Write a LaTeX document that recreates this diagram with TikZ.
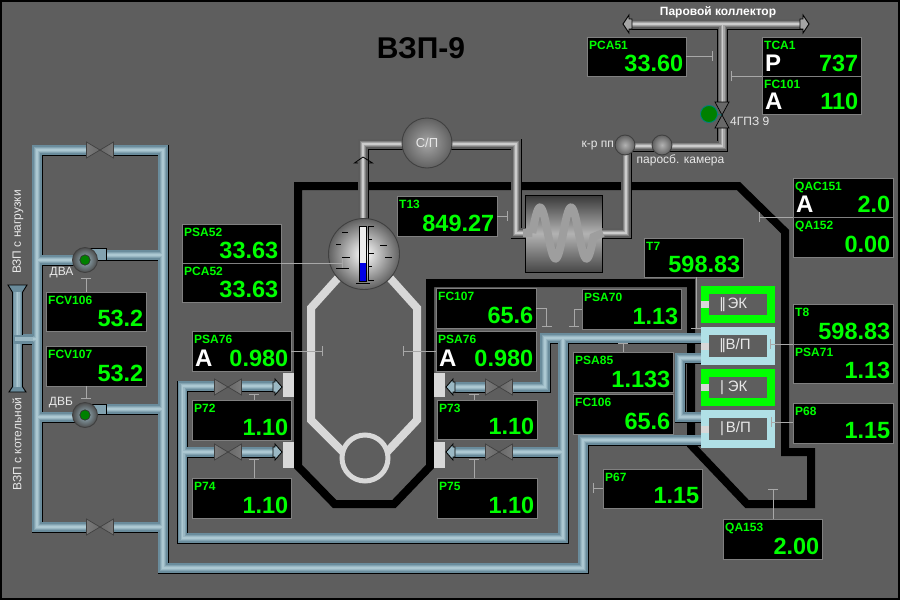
\documentclass[tikz,border=0pt]{standalone}
\usepackage{fontspec}
\setmainfont{Liberation Sans}
\usetikzlibrary{arrows.meta,calc}
\definecolor{bgc}{HTML}{5E5E5E}
\definecolor{gtxt}{HTML}{00FF00}
\definecolor{frameb}{HTML}{B0E0E6}
\definecolor{slotc}{HTML}{D8D8D8}
\definecolor{tickc}{HTML}{A8A8A8}
\definecolor{labc}{HTML}{E8E8E8}
\definecolor{pborder}{HTML}{808080}
\tikzset{
  panelbox/.style={draw=pborder,fill=black,line width=.9pt,inner sep=0pt,outer sep=0pt,anchor=north west},
  labeltxt/.style={anchor=base west,inner sep=0pt,text=gtxt,font=\bfseries\fontsize{12}{12}\selectfont},
  valtxt/.style={anchor=base east,inner sep=0pt,text=gtxt,font=\bfseries\fontsize{23.5}{24}\selectfont},
  lettxt/.style={anchor=base west,inner sep=0pt,text=white,font=\bfseries\fontsize{24}{24}\selectfont},
  plain/.style={inner sep=0pt,text=labc,font=\fontsize{12}{12}\selectfont},
  conn/.style={draw=tickc,line width=.8pt,-{Bar[width=10pt,line width=.8pt]}},
  connraw/.style={draw=tickc,line width=.8pt},
  sphere/.style={draw=black!75,line width=.9pt,shading=radial,inner color=#1,outer color=black!62},
}
% panel: name x1 y1 x2 y2 label letter value
\newcommand\panel[8]{%
  \pgfmathsetlengthmacro\pw{(#4-#2)*1pt}\pgfmathsetlengthmacro\ph{(#5-#3)*1pt}%
  \node[panelbox,minimum width=\pw,minimum height=\ph] (#1) at (#2,#3) {};
  \node[labeltxt] (#1-l) at (#2+2,#3+12) {#6};
  \def\tmpl{#7}\ifx\tmpl\empty\else\node[lettxt] (#1-a) at (#2+3,#5-5) {#7};\fi
  \node[valtxt] (#1-v) at (#4-2.5,#5-5) {#8};
}
\newcommand\layers[5]{% path, then four colours from edge to axis
  \draw[black,line width=11pt] #1;
  \draw[#2,line width=9.2pt] #1;
  \draw[#3,line width=6.6pt] #1;
  \draw[#4,line width=4pt] #1;
  \draw[#5,line width=1.6pt] #1;
}
\definecolor{vd}{HTML}{7A7A7A}\definecolor{vm}{HTML}{C8C8C8}\definecolor{vt}{HTML}{686868}
\newcommand\hvalve[2]{%
  \fill[bgc] (#1-13.5,#2-6.5) rectangle (#1+13.5,#2+6.5);
  \draw[black!75,line width=.7pt,left color=vd,middle color=vm,right color=vt] (#1-13.5,#2-8)--(#1,#2)--(#1-13.5,#2+8)--cycle;
  \draw[black!75,line width=.7pt,left color=vt,middle color=vm,right color=vd] (#1+13.5,#2-8)--(#1,#2)--(#1+13.5,#2+8)--cycle;
}
\newcommand\bhead[3]{% tip x, y, direction
  \draw[black,line width=.8pt,fill=bl3] (#1-#3*7,#2-8)--(#1,#2)--(#1-#3*7,#2+8)--(#1-#3*7,#2+5)--(#1-#3*9,#2+5)--(#1-#3*9,#2-5)--(#1-#3*7,#2-5)--cycle;
}
\definecolor{bl1}{HTML}{6A8C9C}\definecolor{bl2}{HTML}{82A2B0}\definecolor{bl3}{HTML}{9AB8C4}\definecolor{bl4}{HTML}{ACC8D2}
\definecolor{gr1}{HTML}{5C5C5C}\definecolor{gr2}{HTML}{808080}\definecolor{gr3}{HTML}{A4A4A4}\definecolor{gr4}{HTML}{CCCCCC}
\begin{document}
\begin{tikzpicture}[x=1pt,y=-1pt]
\useasboundingbox (0,0) rectangle (900,600);
\fill[black] (0,0) rectangle (900,600);
\fill[bgc] (2,2) rectangle (898,598);

% furnace wall
\draw[black,line width=8pt,miter limit=10] (298,186)--(738.4,186)--(785,231.6)--(785,452)--(811,452)--(811,504)--(747,504)--(691,445)--(691,283)--(430,283)--(430,466.4)--(394,504)--(334.6,504)--(298,466.4)--cycle;

% reactor
\draw[slotc,line width=8pt] (338,278)--(311,308)--(311,420)--(344,453);
\draw[slotc,line width=8pt] (390,278)--(417,308)--(417,420)--(386,453);
\draw[slotc,fill=bgc,line width=5pt] (365,458) circle (23);

% title
\node[inner sep=0pt,text=black,font=\bfseries\fontsize{30}{30}\selectfont] (title) at (421,48) {ВЗП-9};
\node[inner sep=0pt,text=white,font=\bfseries\fontsize{12}{12}\selectfont] (coll) at (718,12) {Паровой коллектор};

% blue pipes
\def\bluenet{(701,440)--(583,440)--(583,568)--(163,568)--(163,150)--(37,150)--(37,527)--(163,527)
 (22,339)--(37,339)
 (37,260)--(85,260) (85,255)--(163,255)
 (37,417)--(85,417) (85,409)--(163,409)
 (278,386)--(182.5,386)--(182.5,538)--(563,538)--(563,338)
 (182.5,452)--(278,452)
 (452,387)--(545,387)--(545,338)--(701,338)
 (452,452)--(563,452)
 (701,358)--(680,358)--(680,417)--(701,417)}
\layers{\bluenet}{bl1}{bl2}{bl3}{bl4}
% outlet of pumps
\foreach \yt/\yb/\nm in {248/260/a,404/414/b}{
  \draw[black,line width=.9pt,fill=bl2] (90,\yt)--(106,\yt)--(106,\yb)--(90,\yb)--cycle;
}
% cylinder
\draw[black,line width=.9pt,fill=bl1] (8,285)--(27,285)--(22,293)--(13,293)--cycle;
\draw[black,line width=.9pt,fill=bl1] (9,392)--(26,392)--(22,386)--(13,386)--cycle;
\layers{(17.5,292)--(17.5,387)}{bl1}{bl2}{bl3}{bl4}
\fill[bl1] (13,334.5) rectangle (22,343.5);
\fill[bl3] (15,337) rectangle (20,341);
\draw[bl1,line width=9pt] (19,339)--(33,339);
\draw[bl3,line width=4pt] (19,339)--(33,339);
% valves
\hvalve{100}{150}\hvalve{100}{527}
\hvalve{228}{387}\hvalve{228}{452}
\hvalve{499}{387}\hvalve{499}{452}
% arrows
\bhead{282}{387}{1}\bhead{282}{452}{1}
\bhead{446}{387}{-1}\bhead{446}{452}{-1}
% gray blocks
\fill[slotc] (283,373) rectangle (294,397);
\fill[slotc] (283,442) rectangle (294,468);
\fill[slotc] (434,373) rectangle (445,397);
\fill[slotc] (434,442) rectangle (445,468);
% pumps
\foreach \cy in {260,415}{
  \draw[black!75,line width=.9pt,shading=radial,inner color=bl3,outer color=black!70] (85,\cy) circle (12.5);
  \draw[black!80,fill=green!50!black,line width=.7pt] (85,\cy) circle (5.2);
}
\node[plain] (dva) at (61.5,273) {ДВА};
\node[plain] (dvb) at (61,403) {ДВБ};
\node[plain,rotate=90] (load) at (18,232) {ВЗП с нагрузки};
\node[plain,rotate=90] (boil) at (17,444) {ВЗП с котельной};

% superheater
\draw[black,line width=.9pt,top color=black!78,bottom color=black!72,middle color=black!30] (525,195) rectangle (602,272);
% gray pipes
\def\graynet{(363,220)--(363,144)--(516,144)--(516,233)--(526,233)
 (602,233)--(626,233)--(626,146)--(722.5,146)--(722.5,24)
 (628,24)--(805,24)}
\layers{\graynet}{gr1}{gr2}{gr3}{gr4}
\draw[black,line width=.9pt,fill=gr3] (629,15)--(623,24)--(629,33)--(629,29)--(632,29)--(632,19)--(629,19)--cycle;
\draw[black,line width=.9pt,fill=gr3] (803,15)--(809,24)--(803,33)--(803,29)--(800,29)--(800,19)--(803,19)--cycle;
% coil
\draw[black!38,line width=8pt,line cap=butt] (523,233)--(532.25,233) plot[domain=532.25:593.5,samples=90,smooth] (\x,{233-25.5*sin((\x-532.25)*11.613)}) -- (603,233);
% vertical pipe arrow
\draw[black,line width=.8pt] (358,163)--(354.5,163)--(363,157)--(372.5,163)--(368,163);
% spheres
\draw[sphere=gray!70!white] (427,143) circle (25);
\node[plain,font=\fontsize{13}{13}\selectfont] (sp) at (427,143) {С/П};
\draw[sphere=gray!60!white] (625,145) circle (10);
\draw[sphere=gray!60!white] (662,145) circle (10);
\node[plain,anchor=east] (krpp) at (614,146) {к-р пп};
\node[plain] (parosb) at (680.5,160) {паросб. камера};
\node[plain,anchor=west] (g4) at (730,121) {4ГПЗ 9};
% main steam valve
\fill[bgc] (716,102) rectangle (729,128);
\draw[black,line width=.7pt,fill=vt] (715,102)--(729,102)--(722,115)--cycle;
\draw[black,line width=.7pt,fill=vt] (715,128)--(729,128)--(722,115)--cycle;
\draw[teal,line width=.8pt] (709,114)--(722,115);
\draw[teal,line width=.8pt,fill=green!50!black] (709,114) circle (8.5);

% drum
\draw[sphere=white] (364,254) circle (35.5);
\draw[black,line width=.9pt,fill=white!85!gray] (359.5,226) rectangle (366,281);
\fill[blue!90!black] (360,263) rectangle (365.6,280.6);
\draw[black,line width=.9pt] (374,226)--(368.5,226)--(368.5,280)--(374,280)
  (368.5,239.5)--(372,239.5) (368.5,253)--(374,253) (368.5,266.5)--(371.5,266.5);
\foreach \xa/\xb/\yy in {342/348/232,336/341/244.5,342/350/257.5,336/349/268.5,380/387/245.5,385/392/257.5,356/370/283.5}{
  \draw[black,line width=.9pt] (\xa,\yy)--(\xb,\yy);
}

% boxes
\foreach \yt/\yb/\cc/\tt in {286/323/gtxt/{|\kern-1.6pt|\kern2ptЭК},327/365/frameb/{|\kern-1.6pt|В/П},369/406/gtxt/{\kern.7pt|\kern3.8ptЭК},410/448/frameb/{\kern.7pt|\kern1.8ptВ/П}}{
  \fill[\cc] (701,\yt) rectangle (775,\yb);
  \fill[bgc] (709,\yt+8) rectangle (767,\yb-8);
  \fill[slotc] (701,{(\yt+\yb)/2-3.5}) rectangle (709,{(\yt+\yb)/2+3.5});
  \node[anchor=west,inner sep=0pt,text=labc,font=\fontsize{15}{15}\selectfont] at (719.3,{(\yt+\yb)/2}) {\tt};
}

% panels
\panel{psa52}{182}{224}{281}{263}{PSA52}{}{33.63}
\panel{pca52}{182}{263}{281}{302}{PCA52}{}{33.63}
\panel{fcv106}{46}{292}{146}{331}{FCV106}{}{53.2}
\panel{fcv107}{46}{346}{146}{386}{FCV107}{}{53.2}
\panel{psa76l}{192}{331}{291}{371}{PSA76}{A}{0.980}
\panel{p72}{192}{400}{291}{440}{P72}{}{1.10}
\panel{p74}{192}{478}{291}{518}{P74}{}{1.10}
\panel{t13}{397}{196}{497}{236}{T13}{}{849.27}
\panel{fc107}{436}{288}{536}{328}{FC107}{}{65.6}
\panel{psa76r}{436}{331}{536}{371}{PSA76}{A}{0.980}
\panel{p73}{437}{400}{537}{439}{P73}{}{1.10}
\panel{p75}{437}{478}{537}{518}{P75}{}{1.10}
\panel{psa70}{582}{289}{681}{329}{PSA70}{}{1.13}
\panel{psa85}{573}{352}{673}{392}{PSA85}{}{1.133}
\panel{fc106}{573}{394}{673}{434}{FC106}{}{65.6}
\panel{p67}{603}{469}{702}{508}{P67}{}{1.15}
\panel{qa153}{723}{519}{822}{559}{QA153}{}{2.00}
\panel{p68}{793}{403}{893}{443}{P68}{}{1.15}
\panel{t8}{793}{304}{893}{344}{T8}{}{598.83}
\panel{psa71}{793}{344}{893}{383}{PSA71}{}{1.13}
\panel{qac151}{793}{178}{893}{217}{QAC151}{A}{2.0}
\panel{qa152}{793}{217}{893}{257}{QA152}{}{0.00}
\panel{t7}{644}{238}{743}{277}{T7}{}{598.83}
\panel{pca51}{587}{37}{686}{76}{PCA51}{}{33.60}
\panel{tca1}{762}{37}{861}{76}{TCA1}{P}{737}
\panel{fc101}{762}{76}{861}{114}{FC101}{A}{110}

% connectors
\coordinate (c1) at (342.5,263);
\draw[conn] (c1 -| psa52.east) -- (c1);
\coordinate (c2) at (86,277.5);
\draw[conn] (c2 |- fcv106.north) -- (c2);
\coordinate (c3) at (86,399);
\draw[conn] (c3 |- fcv107.south) -- (c3);
\coordinate (c4) at (322.5,351);
\draw[conn] (c4 -| psa76l.east) -- (c4);
\coordinate (c5) at (254,394);
\draw[conn] (c5 |- p72.north) -- (c5);
\coordinate (c6) at (254,459);
\draw[conn] (c6 |- p74.north) -- (c6);
\coordinate (c7) at (508,216);
\draw[conn] (c7 -| t13.east) -- (c7);
\coordinate (c8) at (546.5,327);
\draw[conn] (fc107.east) -| (c8);
\coordinate (c9) at (574,327);
\draw[conn] (psa70.west) -| (c9);
\coordinate (c10) at (403,351);
\draw[conn] (c10 -| psa76r.west) -- (c10);
\coordinate (c11) at (474,394);
\draw[conn] (c11 |- p73.north) -- (c11);
\coordinate (c12) at (474,459);
\draw[conn] (c12 |- p75.north) -- (c12);
\coordinate (c13) at (623,343);
\draw[conn] (c13 |- psa85.north) -- (c13);
\coordinate (c14) at (593,488);
\draw[conn] (c14 -| p67.west) -- (c14);
\coordinate (c15) at (773,489);
\draw[conn] (c15 |- qa153.north) -- (c15);
\coordinate (c16) at (771,422);
\draw[conn] (c16 -| p68.west) -- (c16);
\coordinate (c17) at (770,344);
\draw[conn] (c17 -| t8.west) -- (c17);
\coordinate (c18) at (759,217);
\draw[conn] (c18 -| qac151.west) -- (c18);
\coordinate (c19) at (696,328);
\draw[connraw] (c19 |- t7.south) -- (c19);
\draw[connraw] (691,328) -- (701,328);
\coordinate (c20) at (713,56);
\draw[conn] (c20 -| pca51.east) -- (c20);
\coordinate (c21) at (731,76);
\draw[conn] (c21 -| tca1.west) -- (c21);
\end{tikzpicture}
\end{document}
